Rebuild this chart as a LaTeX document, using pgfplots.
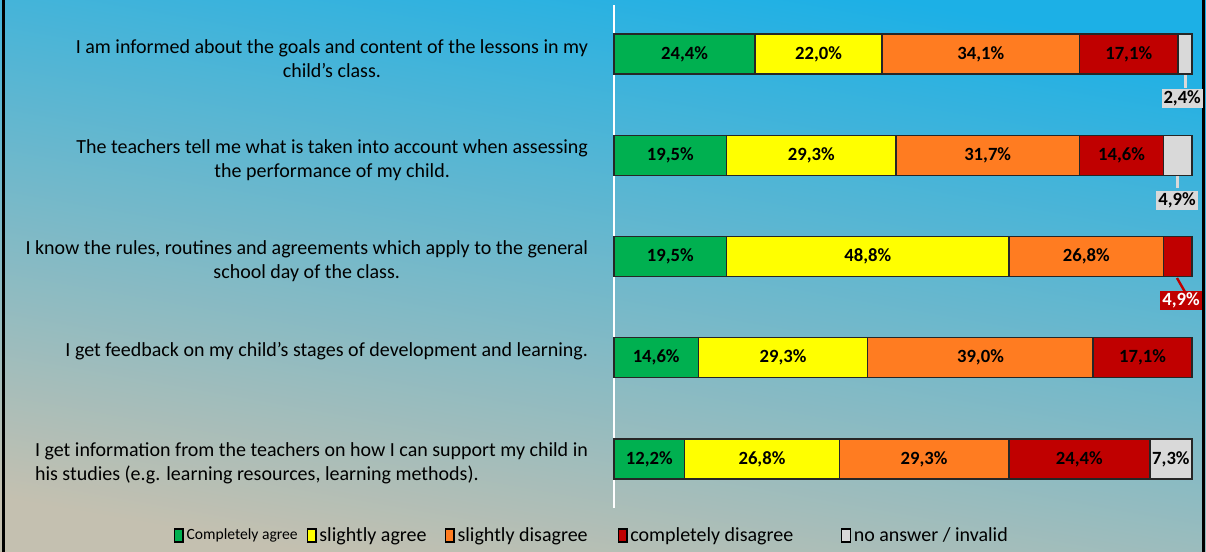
\documentclass[border=0pt]{standalone}
\usepackage{pgfplots}
\usepackage{pgfplotstable}
\pgfplotsset{compat=1.18}
\usepackage{fontspec}
\setmainfont{Carlito}
\definecolor{cgreen}{RGB}{0,176,80}
\definecolor{cyellow}{RGB}{255,255,0}
\definecolor{corange}{RGB}{255,124,33}
\definecolor{cred}{RGB}{192,0,0}
\definecolor{cgray}{RGB}{217,217,217}
\definecolor{bgtop}{RGB}{28,176,230}
\definecolor{bgmid}{RGB}{110,183,207}
\definecolor{bgbot}{RGB}{196,192,176}

\pgfplotstableread{
y v lab
0 24.4 24,4
1 19.5 19,5
2 19.5 19,5
3 14.6 14,6
4 12.2 12,2
}\tgreen
\pgfplotstableread{
y v lab
0 22.0 22,0
1 29.3 29,3
2 48.8 48,8
3 29.3 29,3
4 26.8 26,8
}\tyellow
\pgfplotstableread{
y v lab
0 34.1 34,1
1 31.7 31,7
2 26.8 26,8
3 39.0 39,0
4 29.3 29,3
}\torange
\pgfplotstableread{
y v lab
0 17.1 17,1
1 14.6 14,6
2 4.9 {}
3 17.1 17,1
4 24.4 24,4
}\tred
\pgfplotstableread{
y v lab
0 2.4 {}
1 4.9 {}
2 0 {}
3 0 {}
4 7.3 7,3
}\tgray

\begin{document}
\begin{tikzpicture}
\shade[top color=bgtop, middle color=bgmid, bottom color=bgbot, shading angle=-10] (-460.5pt,-33pt) rectangle (444pt,381pt);
\draw[line width=2.2pt] (-458.2pt,-33pt) -- (-458.2pt,381pt);
\draw[line width=2.2pt] (441.8pt,-33pt) -- (441.8pt,381pt);
\begin{axis}[
  at={(0,0)}, anchor=south west,
  scale only axis, width=433.5pt, height=377.25pt,
  xbar stacked, bar width=0.395,
  xmin=0, xmax=100, ymin=-0.484, ymax=4.484, y dir=reverse,
  axis x line=none, axis y line*=left,
  y axis line style={white, line width=0.9pt, -},
  ytick={0,1,2,3,4},
  yticklabels={
    {I am informed about the goals and content of the lessons in my\\child’s class.},
    {The teachers tell me what is taken into account when assessing\\the performance of my child.},
    {I know the rules, routines and agreements which apply to the general\\school day of the class.},
    {\raisebox{8.5pt}[\height][\depth]{I get feedback on my child’s stages of development and learning.}},
    {\begin{tabular}{@{}l@{}}I get information from the teachers on how I can support my child in\\[0.5pt]his studies (e.g. learning resources, learning methods).\end{tabular}}
  },
  yticklabel style={font=\fontsize{15pt}{18pt}\selectfont, align=center, xshift=-16pt, yshift=-3.5pt},
  major tick length=0pt,
  clip=false,
  point meta=explicit symbolic,
  nodes near coords={\pgfplotspointmeta\ifx\pgfplotspointmeta\empty\else\%\fi},
  every node near coord/.append style={font=\fontsize{14pt}{16pt}\selectfont\bfseries, anchor=center},
  every axis plot/.append style={draw=black!85, line width=1.1pt},
  legend style={at={(-0.762,-0.054)}, anchor=west, draw=none, fill=none,
    legend columns=5, inner sep=0pt, font=\fontsize{15pt}{17pt}\selectfont,
    /tikz/every even column/.append style={column sep=0pt},
    cells={anchor=west}},
  legend image code/.code={\draw[#1, draw=black, line width=1.1pt] (0pt,-5pt) rectangle (6.5pt,4.5pt);},
]
\addplot[fill=cgreen] table[x=v, y=y, meta=lab] {\tgreen};
\addplot[fill=cyellow] table[x=v, y=y, meta=lab] {\tyellow};
\addplot[fill=corange] table[x=v, y=y, meta=lab] {\torange};
\addplot[fill=cred] table[x=v, y=y, meta=lab] {\tred};
\addplot[fill=cgray] table[x=v, y=y, meta=lab] {\tgray};
\addlegendentry{\makebox[88pt][l]{\fontsize{11.7pt}{13pt}\selectfont Completely agree}}
\addlegendentry{\makebox[92pt][l]{slightly agree}}
\addlegendentry{\makebox[118pt][l]{slightly disagree}}
\addlegendentry{\makebox[156pt][l]{completely disagree}}
\addlegendentry{no answer / invalid}
% small value call-outs
\draw[cgray, line width=2.2pt] (axis cs:98.8,0.207) -- (axis cs:98.8,0.336);
\node[fill=cgray, inner sep=1.5pt, font=\fontsize{14pt}{16pt}\selectfont\bfseries] at (axis cs:98.3,0.44) {2,4\%};
\draw[cgray, line width=2.2pt] (axis cs:97.5,1.205) -- (axis cs:97.5,1.323);
\node[fill=cgray, inner sep=1.5pt, font=\fontsize{14pt}{16pt}\selectfont\bfseries] at (axis cs:97.4,1.447) {4,9\%};
\draw[cred, line width=1.8pt] (axis cs:97.4,2.212) -- (axis cs:98.8,2.351);
\node[fill=cred, text=white, inner sep=1.5pt, font=\fontsize{14pt}{16pt}\selectfont\bfseries] at (axis cs:98.1,2.435) {4,9\%};
\end{axis}
\pgfresetboundingbox
\useasboundingbox (-460.5pt,-33pt) rectangle (444pt,381pt);
\end{tikzpicture}
\end{document}
